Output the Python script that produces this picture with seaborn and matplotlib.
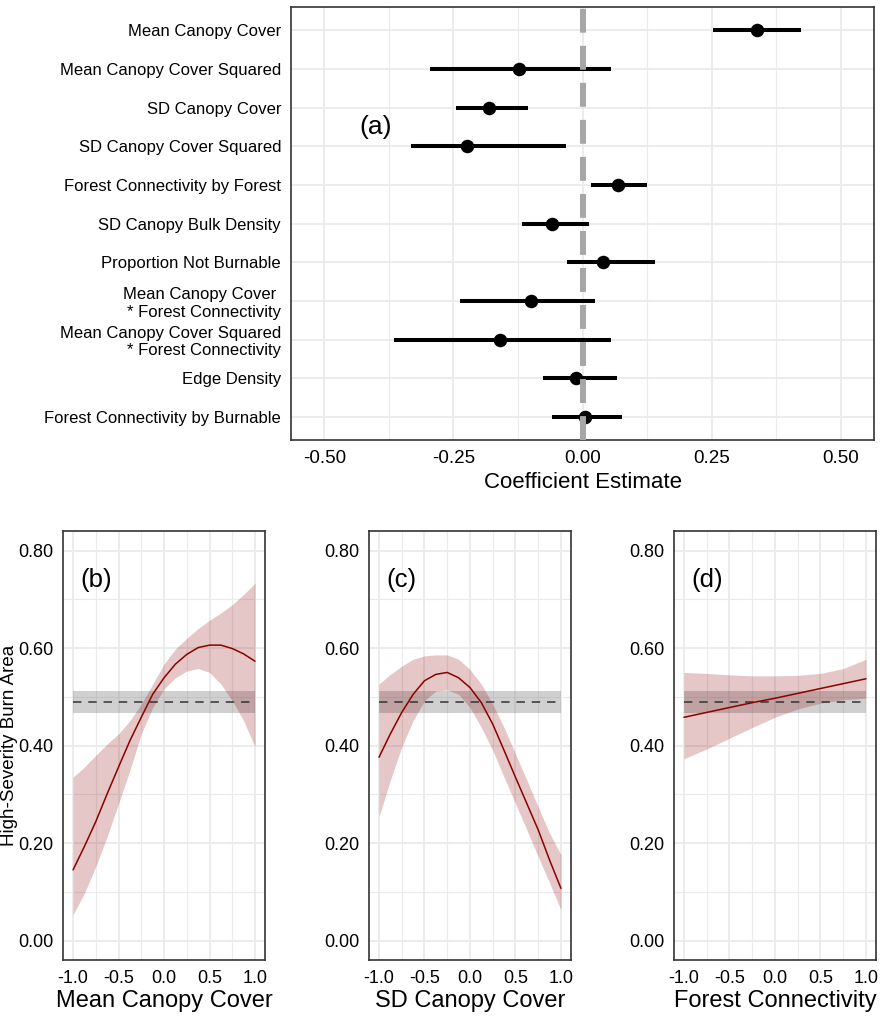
import numpy as np
import seaborn as sns
import matplotlib
matplotlib.use("Agg")
import matplotlib.pyplot as plt
from matplotlib.ticker import MultipleLocator, FormatStrFormatter

# panel (a): model coefficients with 95% intervals
terms = ["Mean Canopy Cover", "Mean Canopy Cover Squared", "SD Canopy Cover",
         "SD Canopy Cover Squared", "Forest Connectivity by Forest",
         "SD Canopy Bulk Density", "Proportion Not Burnable",
         "Mean Canopy Cover \n* Forest Connectivity",
         "Mean Canopy Cover Squared\n* Forest Connectivity",
         "Edge Density", "Forest Connectivity by Burnable"]
estimate = [0.337, -0.123, -0.182, -0.223, 0.068, -0.060, 0.040, -0.100, -0.159, -0.012, 0.004]
ci_low = [0.253, -0.296, -0.246, -0.332, 0.016, -0.118, -0.031, -0.237, -0.365, -0.076, -0.060]
ci_high = [0.423, 0.055, -0.105, -0.032, 0.124, 0.013, 0.141, 0.024, 0.055, 0.067, 0.076]

# panels (b)-(d): predicted high-severity burn area
xs = [-1.0, -0.875, -0.75, -0.625, -0.5, -0.375, -0.25, -0.125, 0.0,
      0.125, 0.25, 0.375, 0.5, 0.625, 0.75, 0.875, 1.0]

fit_b = [0.145, 0.193, 0.244, 0.301, 0.356, 0.410, 0.458, 0.505, 0.539,
         0.567, 0.587, 0.601, 0.606, 0.606, 0.599, 0.588, 0.573]
low_b = [0.053, 0.097, 0.152, 0.213, 0.281, 0.349, 0.424, 0.478, 0.516,
         0.539, 0.553, 0.558, 0.550, 0.526, 0.492, 0.451, 0.397]
high_b = [0.335, 0.356, 0.380, 0.403, 0.424, 0.451, 0.485, 0.526, 0.567,
          0.598, 0.620, 0.640, 0.657, 0.672, 0.689, 0.710, 0.733]

fit_c = [0.376, 0.424, 0.468, 0.505, 0.533, 0.546, 0.550, 0.539, 0.519,
         0.488, 0.444, 0.390, 0.335, 0.281, 0.227, 0.165, 0.107]
low_c = [0.254, 0.329, 0.397, 0.451, 0.492, 0.512, 0.514, 0.505, 0.478,
         0.437, 0.390, 0.335, 0.281, 0.227, 0.172, 0.118, 0.063]
high_c = [0.526, 0.546, 0.563, 0.577, 0.584, 0.586, 0.586, 0.577, 0.556,
          0.526, 0.485, 0.437, 0.383, 0.329, 0.274, 0.220, 0.176]

xs_d = [-1.0, -0.75, -0.5, -0.25, 0.0, 0.25, 0.5, 0.75, 1.0]
fit_d = [0.458, 0.468, 0.478, 0.488, 0.497, 0.507, 0.517, 0.527, 0.537]
low_d = [0.373, 0.393, 0.415, 0.437, 0.458, 0.475, 0.487, 0.494, 0.497]
high_d = [0.550, 0.548, 0.545, 0.543, 0.543, 0.544, 0.548, 0.558, 0.577]

# observed mean and interval (grey band)
null_mean = 0.489
null_low = 0.466
null_high = 0.512

sns.set_theme(style="whitegrid")
plt.rcParams['font.family'] = ['Liberation Sans', 'DejaVu Sans']
plt.rcParams['axes.unicode_minus'] = False
plt.rcParams['text.color'] = 'black'
plt.rcParams['axes.labelcolor'] = 'black'

GRID = '#ebebeb'
FRAME = '#333333'
RED = '#8b0000'


def style_axes(ax, tick_size):
    for s in ax.spines.values():
        s.set_color(FRAME)
        s.set_linewidth(1.2)
    ax.tick_params(which='major', length=4, width=1, color=FRAME,
                   labelsize=tick_size, labelcolor='black', pad=3)
    ax.tick_params(which='minor', length=0)
    ax.grid(which='major', color=GRID, lw=1.3)
    ax.grid(which='minor', color=GRID, lw=0.8)
    ax.set_axisbelow(True)


fig = plt.figure(figsize=(8.84, 10.28), dpi=100)

# ---- (a) coefficient plot ----
ax_a = fig.add_axes([0.329, 0.572, 0.660, 0.421])
pos = np.arange(len(terms))
ax_a.hlines(pos, ci_low, ci_high, color='black', lw=2.9, zorder=3)
sns.scatterplot(x=estimate, y=pos, ax=ax_a, color='black', s=95,
                linewidth=0, zorder=4, legend=False)
ax_a.axvline(0, color='#a6a6a6', lw=4.3, dashes=(4.0, 2.2), zorder=5)
ax_a.set_ylim(len(terms) - 0.4, -0.6)
ax_a.set_yticks(pos)
ax_a.set_yticklabels(terms)
ax_a.set_xlim(-0.565, 0.565)
ax_a.xaxis.set_major_locator(MultipleLocator(0.25))
ax_a.xaxis.set_minor_locator(MultipleLocator(0.125))
ax_a.xaxis.set_major_formatter(FormatStrFormatter('%.2f'))
style_axes(ax_a, 13.5)
ax_a.tick_params(axis='y', labelsize=12)
ax_a.grid(which='minor', axis='y', visible=False)
ax_a.set_xlabel("Coefficient Estimate", fontsize=16, labelpad=4)
ax_a.set_ylabel("")
ax_a.text(-0.40, 2.5, "(a)", fontsize=19, ha='center', va='center')

# ---- (b)-(d) predicted curves ----
panels = [
    (xs, fit_b, low_b, high_b, "Mean Canopy Cover", "(b)", 0.0713),
    (xs, fit_c, low_c, high_c, "SD Canopy Cover", "(c)", 0.4174),
    (xs_d, fit_d, low_d, high_d, "Forest Connectivity", "(d)", 0.7624),
]

for x, fit, lo, hi, xlabel, tag, left in panels:
    ax = fig.add_axes([left, 0.0661, 0.2285, 0.4173])
    ends = [x[0], x[-1]]
    ax.fill_between(ends, null_low, null_high, color='#7a7a7a', alpha=0.35,
                    lw=0, zorder=2)
    ax.fill_between(x, lo, hi, color=RED, alpha=0.22, lw=0, zorder=2)
    ax.hlines(null_mean, x[0], x[-1], colors='#333333', lw=1.1,
              linestyles=(0, (5.5, 4.5)), zorder=3)
    sns.lineplot(x=x, y=fit, ax=ax, color=RED, lw=1.1, zorder=4)
    ax.set_xlim(-1.11, 1.11)
    ax.set_ylim(-0.04, 0.84)
    ax.xaxis.set_major_locator(MultipleLocator(0.5))
    ax.xaxis.set_minor_locator(MultipleLocator(0.25))
    ax.yaxis.set_major_locator(MultipleLocator(0.2))
    ax.yaxis.set_minor_locator(MultipleLocator(0.1))
    ax.xaxis.set_major_formatter(FormatStrFormatter('%.1f'))
    ax.yaxis.set_major_formatter(FormatStrFormatter('%.2f'))
    style_axes(ax, 13)
    ax.set_xlabel(xlabel, fontsize=17, labelpad=2)
    ax.set_ylabel("")
    ax.text(-0.75, 0.74, tag, fontsize=18.5, ha='center', va='center')

# shared y label, kept inside the figure edge
fig.text(1 / 884, 1 - 745.5 / 1028, "High-Severity Burn Area", rotation=90,
         ha='left', va='center', fontsize=13.5)

fig.savefig("out.png", dpi=100)
